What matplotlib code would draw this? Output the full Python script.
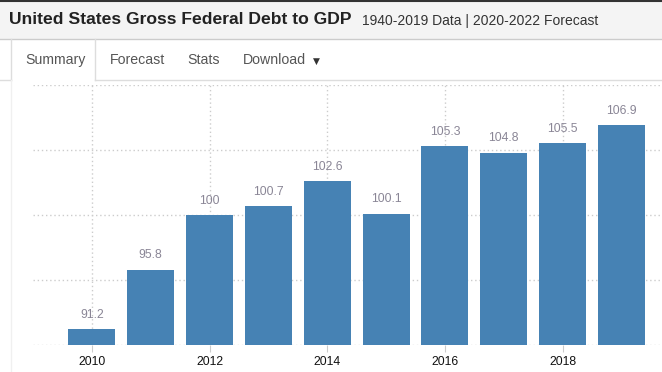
import numpy as np
import matplotlib
matplotlib.use("Agg")
from matplotlib import pyplot as plt
from matplotlib.patches import Rectangle
from matplotlib.lines import Line2D

# ---------------------------------------------------------------------------
# Data
# ---------------------------------------------------------------------------
years = [2010, 2011, 2012, 2013, 2014, 2015, 2016, 2017, 2018, 2019]
debt_to_gdp = [91.2, 95.8, 100, 100.7, 102.6, 100.1, 105.3, 104.8, 105.5, 106.9]
tick_years = [2010, 2012, 2014, 2016, 2018]
title = "United States Gross Federal Debt to GDP"
subtitle = "1940-2019 Data | 2020-2022 Forecast"
tabs = ["Summary", "Forecast", "Stats", "Download"]

# ---------------------------------------------------------------------------
# Figure (pixel helpers)
# ---------------------------------------------------------------------------
W, H = 662, 372
plt.rcParams["font.family"] = ["Liberation Sans", "DejaVu Sans"]
fig = plt.figure(figsize=(W / 100, H / 100), dpi=100)
fig.patch.set_facecolor("white")


def fx(x):
    return x / W


def fy(y):
    return 1 - y / H


def hline(y, x0, x1, color, lw=1.0):
    fig.add_artist(Line2D([fx(x0), fx(x1)], [fy(y), fy(y)], color=color, lw=lw,
                          transform=fig.transFigure))


def vline(x, y0, y1, color, lw=1.0):
    fig.add_artist(Line2D([fx(x), fx(x)], [fy(y0), fy(y1)], color=color, lw=lw,
                          transform=fig.transFigure))


# header band
fig.add_artist(Rectangle((0, fy(38.5)), 1, 38.5 / H, transform=fig.transFigure,
                         facecolor="#f4f4f4", edgecolor="none"))
hline(0.6, 0, W, "#333333", lw=1.5)
hline(38.5, 0, W, "#cccccc")
fig.text(fx(9), fy(20), title, fontsize=12.6, fontweight="bold", color="#222222",
         va="center", ha="left")
fig.text(fx(362), fy(21), subtitle, fontsize=10, color="#333333",
         va="center", ha="left")

# tabs
vline(10.5, 39, 80, "#dddddd")
vline(95, 39, 80, "#dddddd")
hline(80, 0, 10.5, "#dddddd")
hline(80, 95, W, "#dddddd")
vline(10.5, 80, H, "#f0f0f0")
tab_x = [25, 110, 187, 243]
for name, x in zip(tabs, tab_x):
    fig.text(fx(x), fy(60), name, fontsize=10.2, color="#555555", va="center", ha="left")
fig.text(fx(316), fy(61), "\u25BC", fontsize=6.5, color="#333333", va="center", ha="center",
         family=["DejaVu Sans"])

# ---------------------------------------------------------------------------
# Chart
# ---------------------------------------------------------------------------
ax = fig.add_axes([fx(33), fy(345), (W - 33) / W, 260 / H])
bars = ax.bar(years, debt_to_gdp, width=0.8, color="#4682b4", zorder=2)
ax.bar_label(bars, labels=[f"{v:g}" for v in debt_to_gdp], padding=6,
             fontsize=8.8, color="#8a8696")

ax.set_xlim(2009.0, 2019.69)
ax.set_ylim(90, 110)
ax.set_yticks([90, 95, 100, 105, 110])
ax.set_yticklabels([])
ax.set_xticks(tick_years)
ax.set_xticklabels([str(y) for y in tick_years], fontsize=8.8, color="#111111")
ax.tick_params(axis="y", length=0)
ax.tick_params(axis="x", length=5, color="#cccccc", pad=3)
ax.grid(True, color="#cccccc", linestyle=(0, (1, 2)), linewidth=1, zorder=0)
for s in ax.spines.values():
    s.set_visible(False)
ax.set_facecolor("none")

fig.savefig("out.png", dpi=100)
